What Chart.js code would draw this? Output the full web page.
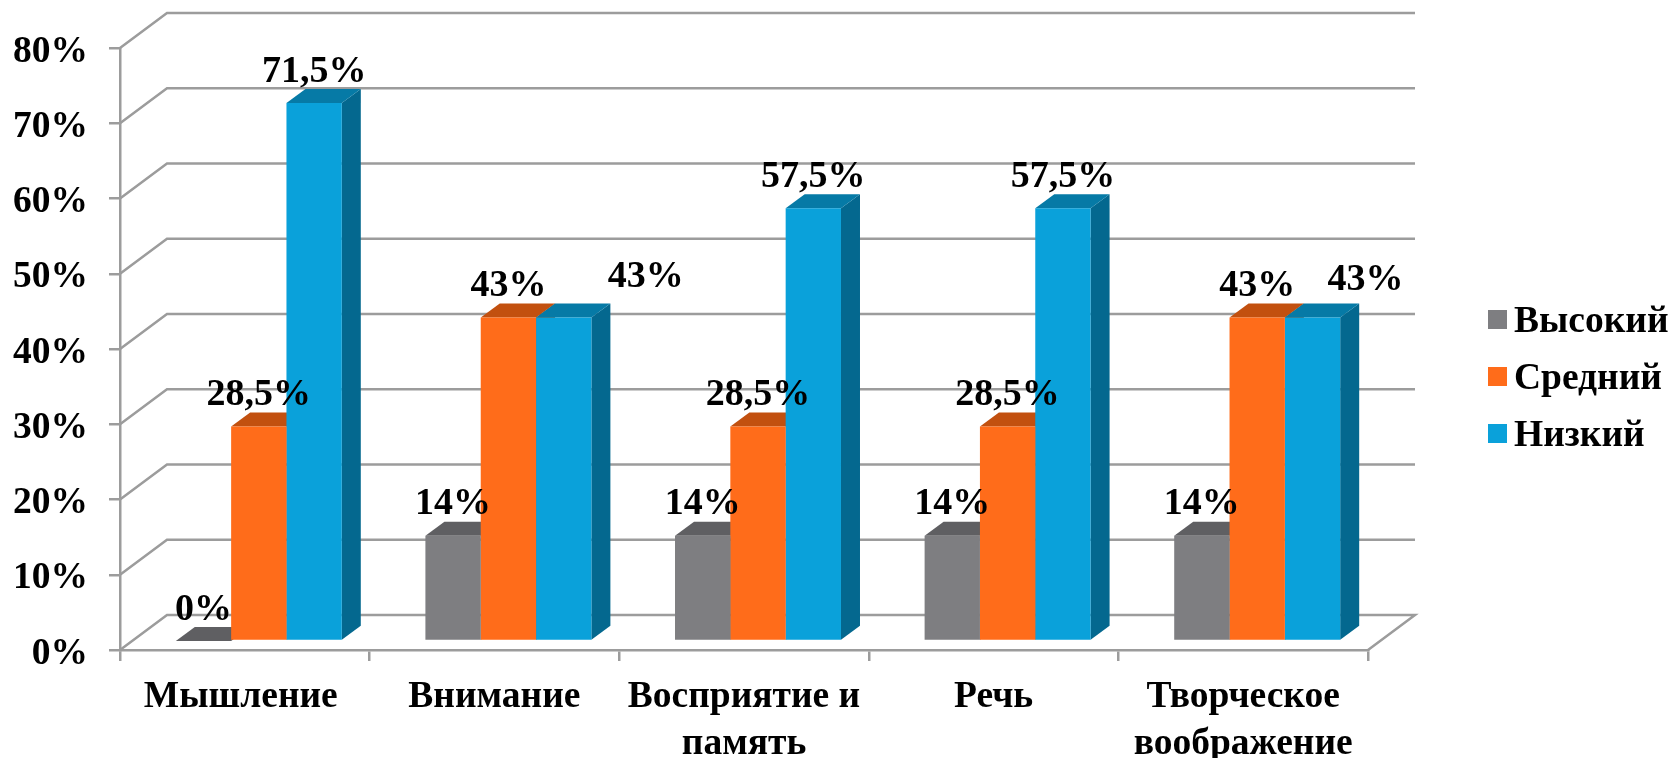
<!DOCTYPE html>
<html lang="ru">
<head>
<meta charset="utf-8">
<title>Chart</title>
<script src="https://cdn.jsdelivr.net/npm/chart.js@4"></script>
<style>
  html, body { margin: 0; padding: 0; background: #fff; }
  canvas { display: block; }
</style>
</head>
<body>
<canvas id="chart" width="1671" height="758"></canvas>
<script>
const categories = ["Мышление", "Внимание", ["Восприятие и", "память"], "Речь", ["Творческое", "воображение"]];
const seriesNames = ["Высокий", "Средний", "Низкий"];
const high = [0, 14, 14, 14, 14];
const medium = [28.5, 43, 28.5, 28.5, 43];
const low = [71.5, 43, 57.5, 57.5, 43];
const yTicks = [0, 10, 20, 30, 40, 50, 60, 70, 80];

const frontColors = ["#7e7e81", "#ff6c1a", "#0aa1da"];
const topColors = ["#5f5f62", "#c2500f", "#067aa6"];
const sideColors = ["#4f4f52", "#a8450d", "#04688f"];
const gridColor = "#9c9c9c";
const fontFamily = "'Liberation Serif', serif";

// 3d offsets, px
const wall = { dx: 47, dy: -35 };
const barShift = { dx: 14, dy: -9 };
const barDepth = { dx: 19, dy: -14 };

function poly(ctx, pts, color) {
  ctx.fillStyle = color;
  ctx.beginPath();
  pts.forEach((p, i) => i ? ctx.lineTo(p[0], p[1]) : ctx.moveTo(p[0], p[1]));
  ctx.closePath();
  ctx.fill();
}

function fmt(v) {
  return String(v).replace(".", ",") + "%";
}

const bars3d = {
  id: "bars3d",
  beforeDraw(chart) {
    // nudge the axis labels, chart.js has no option for this
    if (chart.$nudged) return;
    chart.$nudged = true;
    chart.scales.y.getLabelItems().forEach(it => { it.options.translation[1] += 4; });
    chart.scales.x.getLabelItems()[0].options.translation[0] -= 4;
  },
  beforeDatasetsDraw(chart) {
    const ctx = chart.ctx;
    const { left, right } = chart.chartArea;
    const y = chart.scales.y;

    // walls and floor
    ctx.save();
    ctx.strokeStyle = gridColor;
    ctx.lineWidth = 2.5;
    yTicks.forEach(t => {
      const py = y.getPixelForValue(t);
      ctx.beginPath();
      ctx.moveTo(left, py);
      ctx.lineTo(left + wall.dx, py + wall.dy);
      ctx.lineTo(right + wall.dx, py + wall.dy);
      if (t === 0) ctx.lineTo(right, py);
      ctx.stroke();
    });
    ctx.restore();

    // top and side of every bar
    chart.data.datasets.forEach((ds, d) => {
      chart.getDatasetMeta(d).data.forEach(bar => {
        const l = bar.x - bar.width / 2 + barShift.dx;
        const r = l + bar.width;
        const t = bar.y + barShift.dy;
        const b = bar.base + barShift.dy;
        poly(ctx, [[r, t], [r + barDepth.dx, t + barDepth.dy], [r + barDepth.dx, b + barDepth.dy], [r, b]], sideColors[d]);
        poly(ctx, [[l, t], [r, t], [r + barDepth.dx, t + barDepth.dy], [l + barDepth.dx, t + barDepth.dy]], topColors[d]);
      });
    });

    // front faces are the real bars, moved into the depth of the floor
    ctx.save();
    ctx.translate(barShift.dx, barShift.dy);
  },
  afterDatasetsDraw(chart) {
    const ctx = chart.ctx;
    ctx.restore();

    ctx.save();
    ctx.fillStyle = "#000";
    ctx.font = "bold 38px " + fontFamily;
    ctx.textAlign = "center";
    ctx.textBaseline = "middle";
    chart.data.datasets.forEach((ds, d) => {
      chart.getDatasetMeta(d).data.forEach((bar, i) => {
        let x = bar.x + barShift.dx;
        let yy = bar.y + barShift.dy - 31;
        // two labels were moved off the bar by hand in the original
        if (d === 2 && i === 1) { x += 82; yy -= 9; }
        if (d === 2 && i === 4) { x += 53; yy -= 6; }
        ctx.fillText(fmt(ds.data[i]), x, yy);
      });
    });

    // legend
    ctx.textAlign = "left";
    ctx.font = "bold 37.5px " + fontFamily;
    chart.data.datasets.forEach((ds, d) => {
      const cy = 319.5 + d * 57;
      ctx.fillStyle = frontColors[d];
      ctx.fillRect(1488, cy - 9.5, 19, 19);
      ctx.fillStyle = "#000";
      ctx.fillText(ds.label, 1514, cy + 3);
    });
    ctx.restore();
  }
};

new Chart(document.getElementById("chart"), {
  type: "bar",
  data: {
    labels: categories,
    datasets: [
      { label: seriesNames[0], data: high, backgroundColor: frontColors[0] },
      { label: seriesNames[1], data: medium, backgroundColor: frontColors[1] },
      { label: seriesNames[2], data: low, backgroundColor: frontColors[2] }
    ]
  },
  options: {
    responsive: false,
    animation: false,
    devicePixelRatio: 1,
    layout: { padding: { top: 48, right: 303, bottom: 0, left: 0 } },
    datasets: { bar: { barPercentage: 1, categoryPercentage: 0.665, borderWidth: 0, clip: false } },
    plugins: { legend: { display: false }, tooltip: { enabled: false } },
    scales: {
      x: {
        afterFit: s => { s.height = 108; },
        border: { display: true, color: gridColor, width: 2.5 },
        grid: { drawOnChartArea: false, color: gridColor, lineWidth: 2.5, tickLength: 11 },
        ticks: { color: "#000", padding: 13, maxRotation: 0, autoSkip: false, font: { family: fontFamily, size: 37.5, weight: "bold", lineHeight: 1.25 } }
      },
      y: {
        min: 0,
        max: 80,
        afterFit: s => { s.width = 120; },
        afterBuildTicks: s => { s.ticks = yTicks.map(v => ({ value: v })); },
        border: { display: true, color: gridColor, width: 2.5 },
        grid: { drawOnChartArea: false, color: gridColor, lineWidth: 2.5, tickLength: 11 },
        ticks: { color: "#000", padding: 21, callback: v => v + "%", font: { family: fontFamily, size: 37.5, weight: "bold" } }
      }
    }
  },
  plugins: [bars3d]
});
</script>
</body>
</html>
